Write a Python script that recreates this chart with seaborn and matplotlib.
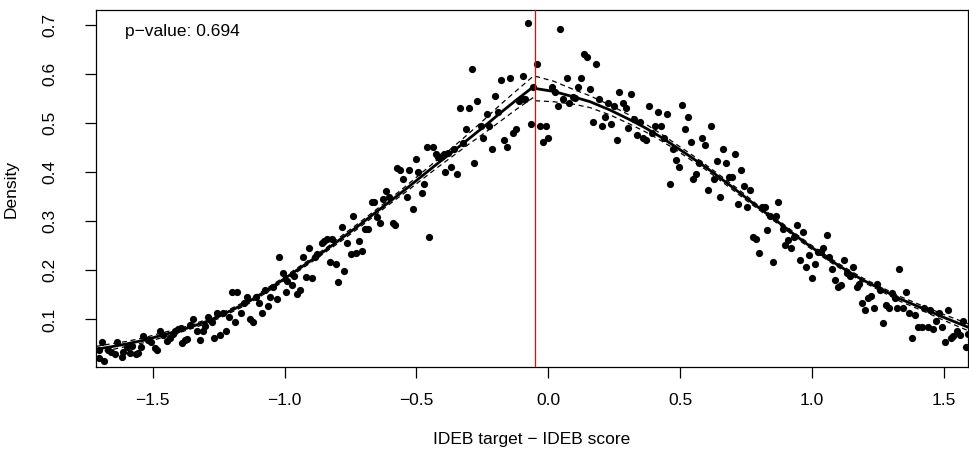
import matplotlib
matplotlib.use("Agg")
import matplotlib.pyplot as plt
from matplotlib.ticker import FixedLocator, FixedFormatter
import pandas as pd
import seaborn as sns

# Histogram cell midpoints and their density values
bin_mid = [
    -1.705, -1.702, -1.692, -1.683, -1.668, -1.659, -1.643, -1.636, -1.617, -1.611,
    -1.598, -1.586, -1.579, -1.563, -1.554, -1.544, -1.535, -1.516, -1.507, -1.491,
    -1.482, -1.472, -1.462, -1.447, -1.434, -1.424, -1.415, -1.403, -1.393, -1.390,
    -1.377, -1.369, -1.358, -1.346, -1.333, -1.320, -1.310, -1.302, -1.289, -1.276,
    -1.267, -1.255, -1.245, -1.234, -1.222, -1.209, -1.200, -1.188, -1.179, -1.165,
    -1.154, -1.143, -1.131, -1.121, -1.108, -1.097, -1.087, -1.074, -1.064, -1.055,
    -1.043, -1.030, -1.020, -1.007, -0.994, -0.990, -0.973, -0.964, -0.952, -0.941,
    -0.929, -0.919, -0.907, -0.897, -0.884, -0.876, -0.859, -0.850, -0.840, -0.828,
    -0.819, -0.806, -0.796, -0.783, -0.773, -0.762, -0.749, -0.739, -0.729, -0.717,
    -0.706, -0.695, -0.682, -0.670, -0.661, -0.651, -0.638, -0.626, -0.615, -0.604,
    -0.590, -0.581, -0.572, -0.562, -0.550, -0.537, -0.527, -0.514, -0.503, -0.493,
    -0.480, -0.470, -0.460, -0.451, -0.436, -0.426, -0.417, -0.404, -0.395, -0.392,
    -0.379, -0.369, -0.358, -0.347, -0.335, -0.325, -0.312, -0.302, -0.290, -0.281,
    -0.269, -0.256, -0.246, -0.234, -0.224, -0.212, -0.201, -0.190, -0.179, -0.168,
    -0.155, -0.145, -0.133, -0.122, -0.112, -0.101, -0.098, -0.088, -0.078, -0.066,
    -0.057, -0.044, -0.031, -0.021, -0.010, 0.000, 0.013, 0.025, 0.036, 0.045,
    0.057, 0.070, 0.080, 0.093, 0.101, 0.114, 0.124, 0.135, 0.146, 0.158,
    0.168, 0.181, 0.192, 0.202, 0.214, 0.225, 0.237, 0.249, 0.259, 0.269,
    0.282, 0.293, 0.303, 0.315, 0.326, 0.337, 0.348, 0.360, 0.370, 0.382,
    0.393, 0.405, 0.415, 0.427, 0.439, 0.449, 0.461, 0.472, 0.483, 0.496,
    0.506, 0.517, 0.528, 0.540, 0.550, 0.560, 0.572, 0.584, 0.595, 0.607,
    0.618, 0.629, 0.641, 0.651, 0.662, 0.674, 0.685, 0.698, 0.707, 0.719,
    0.729, 0.742, 0.752, 0.764, 0.775, 0.786, 0.798, 0.809, 0.822, 0.830,
    0.841, 0.853, 0.863, 0.872, 0.889, 0.897, 0.910, 0.920, 0.932, 0.942,
    0.954, 0.964, 0.977, 0.988, 0.999, 1.011, 1.024, 1.033, 1.043, 1.055,
    1.065, 1.077, 1.088, 1.099, 1.110, 1.122, 1.134, 1.144, 1.156, 1.169,
    1.179, 1.190, 1.201, 1.213, 1.223, 1.235, 1.245, 1.258, 1.270, 1.279,
    1.291, 1.302, 1.314, 1.323, 1.331, 1.346, 1.356, 1.369, 1.380, 1.390,
    1.403, 1.416, 1.425, 1.438, 1.447, 1.457, 1.470, 1.481, 1.493, 1.504,
    1.516, 1.526, 1.535, 1.548, 1.561, 1.571, 1.582, 1.592,
]
bin_density = [
    0.037, 0.022, 0.053, 0.015, 0.037, 0.033, 0.029, 0.054, 0.024, 0.034,
    0.044, 0.031, 0.046, 0.029, 0.031, 0.044, 0.067, 0.059, 0.054, 0.042,
    0.037, 0.077, 0.068, 0.056, 0.063, 0.071, 0.076, 0.081, 0.082, 0.051,
    0.059, 0.061, 0.088, 0.100, 0.076, 0.058, 0.076, 0.086, 0.105, 0.095,
    0.062, 0.113, 0.068, 0.113, 0.076, 0.105, 0.156, 0.095, 0.156, 0.113,
    0.133, 0.146, 0.100, 0.095, 0.146, 0.133, 0.113, 0.161, 0.128, 0.146,
    0.167, 0.142, 0.227, 0.194, 0.156, 0.179, 0.170, 0.188, 0.152, 0.161,
    0.227, 0.186, 0.245, 0.184, 0.228, 0.233, 0.255, 0.260, 0.264, 0.218,
    0.264, 0.213, 0.176, 0.289, 0.199, 0.255, 0.233, 0.311, 0.236, 0.260,
    0.240, 0.284, 0.284, 0.339, 0.339, 0.308, 0.297, 0.345, 0.362, 0.349,
    0.296, 0.292, 0.409, 0.405, 0.386, 0.350, 0.405, 0.325, 0.428, 0.400,
    0.358, 0.376, 0.451, 0.269, 0.452, 0.437, 0.432, 0.433, 0.437, 0.400,
    0.440, 0.410, 0.447, 0.396, 0.532, 0.460, 0.489, 0.532, 0.611, 0.419,
    0.546, 0.494, 0.471, 0.518, 0.494, 0.448, 0.556, 0.522, 0.588, 0.466,
    0.452, 0.592, 0.480, 0.489, 0.546, 0.550, 0.597, 0.550, 0.705, 0.499,
    0.573, 0.621, 0.494, 0.461, 0.494, 0.471, 0.573, 0.564, 0.536, 0.692,
    0.550, 0.592, 0.541, 0.554, 0.551, 0.573, 0.592, 0.641, 0.636, 0.569,
    0.503, 0.621, 0.550, 0.494, 0.513, 0.541, 0.499, 0.536, 0.466, 0.564,
    0.541, 0.532, 0.490, 0.560, 0.508, 0.476, 0.503, 0.471, 0.466, 0.536,
    0.480, 0.494, 0.522, 0.494, 0.471, 0.518, 0.377, 0.447, 0.425, 0.410,
    0.537, 0.489, 0.513, 0.462, 0.386, 0.396, 0.420, 0.471, 0.456, 0.363,
    0.494, 0.386, 0.424, 0.349, 0.447, 0.419, 0.391, 0.391, 0.438, 0.335,
    0.405, 0.373, 0.330, 0.363, 0.269, 0.264, 0.236, 0.330, 0.330, 0.282,
    0.311, 0.217, 0.311, 0.339, 0.284, 0.252, 0.262, 0.245, 0.269, 0.292,
    0.222, 0.279, 0.207, 0.231, 0.185, 0.213, 0.237, 0.237, 0.246, 0.273,
    0.228, 0.203, 0.180, 0.167, 0.171, 0.222, 0.194, 0.189, 0.207, 0.167,
    0.172, 0.133, 0.119, 0.143, 0.148, 0.124, 0.172, 0.160, 0.092, 0.129,
    0.124, 0.153, 0.143, 0.124, 0.203, 0.124, 0.156, 0.114, 0.062, 0.110,
    0.085, 0.085, 0.124, 0.085, 0.119, 0.080, 0.097, 0.114, 0.085, 0.053,
    0.119, 0.062, 0.067, 0.077, 0.068, 0.097, 0.044, 0.071,
]

# Local linear density fit on each side of the cutoff, with 95% half-widths
left_grid = [-1.715, -1.65, -1.60, -1.53, -1.47, -1.40, -1.36, -1.30, -1.25,
             -1.20, -1.14, -1.08, -1.02, -0.96, -0.90, -0.84, -0.78, -0.72,
             -0.66, -0.60, -0.54, -0.48, -0.42, -0.36, -0.30, -0.24, -0.18,
             -0.12, -0.053]
left_fit = [0.039, 0.045, 0.050, 0.058, 0.067, 0.077, 0.084, 0.095, 0.106,
            0.119, 0.135, 0.155, 0.176, 0.198, 0.220, 0.243, 0.267, 0.291,
            0.316, 0.341, 0.366, 0.392, 0.418, 0.443, 0.469, 0.495, 0.522,
            0.548, 0.576]
left_halfwidth = [0.006, 0.006, 0.005, 0.005, 0.005, 0.004, 0.004, 0.004, 0.004,
                  0.004, 0.004, 0.004, 0.004, 0.004, 0.004, 0.004, 0.005, 0.005,
                  0.005, 0.005, 0.006, 0.007, 0.008, 0.009, 0.011, 0.014, 0.017,
                  0.019, 0.022]

right_grid = [-0.050, 0.019, 0.095, 0.158, 0.234, 0.310, 0.370, 0.423, 0.480,
              0.530, 0.590, 0.638, 0.690, 0.740, 0.790, 0.840, 0.890, 0.935,
              0.980, 1.030, 1.080, 1.130, 1.190, 1.257, 1.333, 1.422, 1.500,
              1.592]
right_fit = [0.571, 0.565, 0.554, 0.544, 0.527, 0.507, 0.490, 0.473, 0.453,
             0.435, 0.413, 0.394, 0.373, 0.352, 0.331, 0.311, 0.291, 0.272,
             0.254, 0.235, 0.217, 0.200, 0.181, 0.163, 0.142, 0.122, 0.104,
             0.084]
right_halfwidth = [0.025, 0.021, 0.015, 0.012, 0.010, 0.009, 0.008, 0.007, 0.006,
                   0.006, 0.005, 0.005, 0.005, 0.005, 0.004, 0.004, 0.004, 0.004,
                   0.004, 0.004, 0.004, 0.004, 0.004, 0.004, 0.005, 0.005, 0.006,
                   0.007]

cutoff = -0.049
p_value = 0.694

x_ticks = [-1.5, -1.0, -0.5, 0.0, 0.5, 1.0, 1.5]
x_tick_labels = ["\u22121.5", "\u22121.0", "\u22120.5", "0.0", "0.5", "1.0", "1.5"]
y_ticks = [0.1, 0.2, 0.3, 0.4, 0.5, 0.6, 0.7]
y_tick_labels = ["0.1", "0.2", "0.3", "0.4", "0.5", "0.6", "0.7"]
x_label = "IDEB target \u2212 IDEB score"
y_label = "Density"

sns.set_style("ticks")
plt.rcParams["font.family"] = ["Liberation Sans", "DejaVu Sans"]
plt.rcParams["font.size"] = 12.5

fig = plt.figure(figsize=(9.69, 4.57), dpi=100)
ax = fig.add_axes([96 / 969, 1 - 367 / 457, 872 / 969, 357 / 457])

cells = pd.DataFrame({"x": bin_mid, "density": bin_density})
sns.scatterplot(data=cells, x="x", y="density", color="black", s=27,
                linewidth=0, ax=ax, zorder=3, legend=False)

for grid, fit, hw in [(left_grid, left_fit, left_halfwidth),
                      (right_grid, right_fit, right_halfwidth)]:
    side = pd.DataFrame({"x": grid, "fit": fit, "hw": hw})
    side["upper"] = side["fit"] + side["hw"]
    side["lower"] = side["fit"] - side["hw"]
    sns.lineplot(data=side, x="x", y="fit", color="black", linewidth=2.0,
                 ax=ax, estimator=None, sort=False, zorder=4)
    for col in ["upper", "lower"]:
        sns.lineplot(data=side, x="x", y=col, color="black", linewidth=0.9,
                     linestyle=(0, (4, 3)), ax=ax, estimator=None, sort=False,
                     zorder=4)

ax.axvline(cutoff, color="red", linewidth=0.9, zorder=5)

ax.set_xlim(-1.715, 1.591)
ax.set_ylim(0.003, 0.731)

ax.xaxis.set_major_locator(FixedLocator(x_ticks))
ax.xaxis.set_major_formatter(FixedFormatter(x_tick_labels))
ax.yaxis.set_major_locator(FixedLocator(y_ticks))
ax.yaxis.set_major_formatter(FixedFormatter(y_tick_labels))
ax.tick_params(axis="x", length=8, width=0.9, color="black", pad=11,
               labelsize=12.5, labelcolor="black")
ax.tick_params(axis="y", length=8, width=0.9, color="black", pad=20,
               labelsize=12.5, labelcolor="black", labelrotation=90)
for lab in ax.get_yticklabels():
    lab.set_va("center")

for sp in ax.spines.values():
    sp.set_color("black")
    sp.set_linewidth(0.9)

ax.set_xlabel(x_label, fontsize=12.5, labelpad=17, color="black")
ax.set_ylabel(y_label, fontsize=12.5, labelpad=17, color="black")

ax.text(0.033, 0.939, f"p\u2212value: {p_value}", transform=ax.transAxes,
        ha="left", va="center", fontsize=12.5, color="black")

fig.savefig("out.png", dpi=100)
